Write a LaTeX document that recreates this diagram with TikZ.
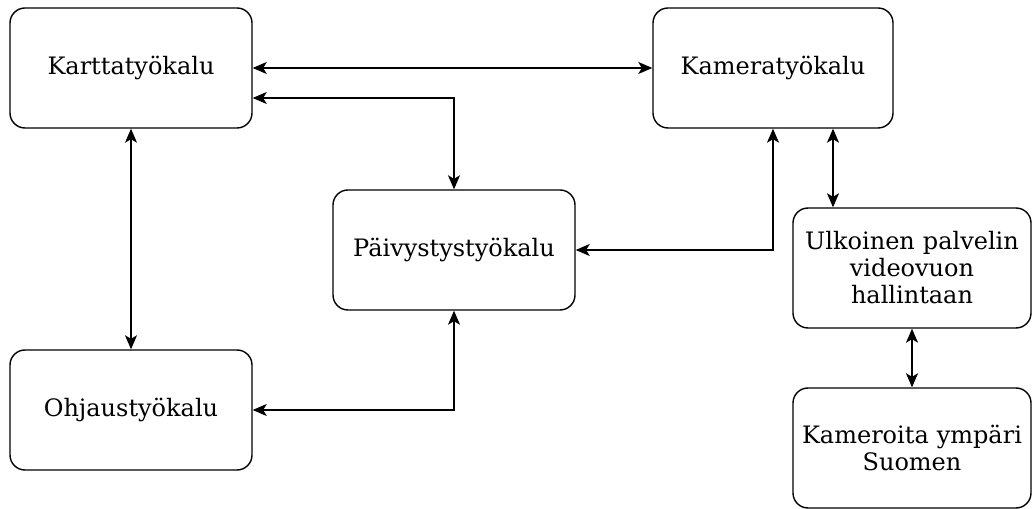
\documentclass[tikz,border=0pt]{standalone}
\usepackage{fontspec}
\setmainfont{DejaVu Serif}
\usepackage{tikz}
\usetikzlibrary{arrows.meta, calc, positioning}

\begin{document}
\begin{tikzpicture}[x=1pt, y=1pt]
    % Styles
    \tikzstyle{block} = [rectangle, draw, line width=1.4pt, rounded corners=15pt, text width=236pt, align=center, minimum width=242pt, minimum height=120pt, font=\fontsize{24}{27}\selectfont, inner sep=0pt]
    \tikzstyle{link} = [draw, line width=1.4pt, {Stealth[length=14pt, width=12pt, inset=3.5pt]}-{Stealth[length=14pt, width=12pt, inset=3.5pt]}]

    \useasboundingbox (0,0) rectangle (1032,508);

    % Nodes
    \node [block] (kartta) at (131,440) {Karttatyökalu};
    \node [block, minimum width=240pt] (kamera) at (773,440) {Kameratyökalu};
    \node [block] (paiv) at (454,258) {Päivystystyökalu};
    \node [block] (ohjaus) at (131,98) {Ohjaustyökalu};
    \node [block, minimum width=238pt] (ulk) at (912,240) {Ulkoinen palvelin\\videovuon\\hallintaan};
    \node [block, minimum width=238pt] (kamerat) at (912,60) {Kameroita ympäri\\Suomen};

    % Paths
    \draw [link] (kartta.east) -- (kamera.west);
    \draw [link] ([yshift=-30pt]kartta.east) -| (paiv.north);
    \draw [link] (paiv.east) -| (kamera.south);
    \draw [link] ([xshift=60pt]kamera.south) -- ([xshift=60pt]kamera.south |- ulk.north);
    \draw [link] (kartta.south) -- (ohjaus.north);
    \draw [link] (ohjaus.east) -| (paiv.south);
    \draw [link] (ulk.south) -- (kamerat.north);

\end{tikzpicture}
\end{document}
